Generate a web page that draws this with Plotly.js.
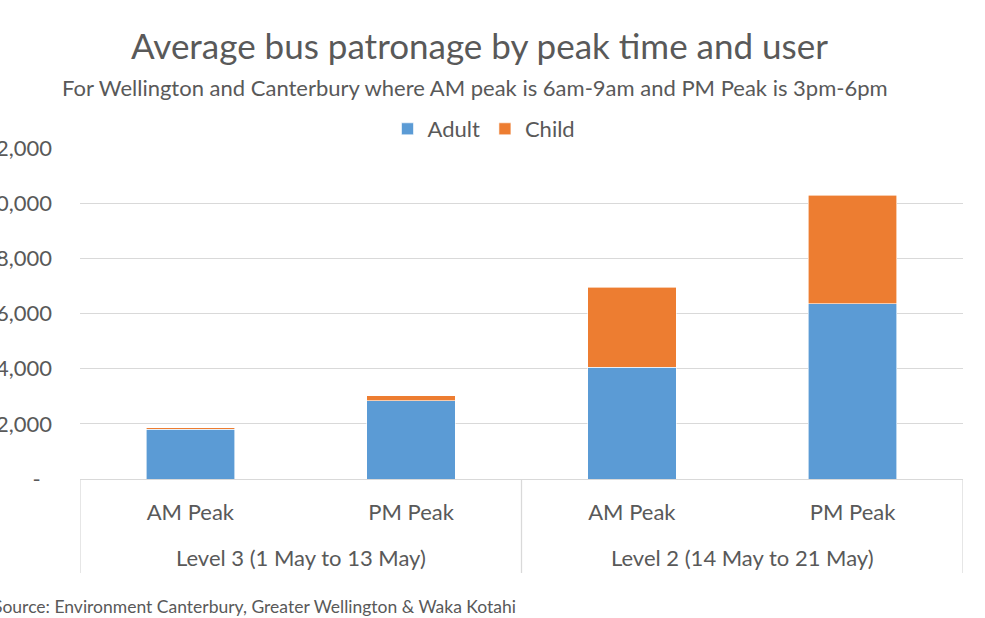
<!DOCTYPE html>
<html>
<head>
<meta charset="utf-8">
<script src="https://cdn.plot.ly/plotly-3.0.1.min.js"></script>
<style>html,body{margin:0;padding:0;background:#fff;}#chart{width:985px;height:618px;}</style>
</head>
<body>
<div id="chart"></div>
<script>
const categories = ["Level 3 AM Peak", "Level 3 PM Peak", "Level 2 AM Peak", "Level 2 PM Peak"];
const peaks = ["AM Peak", "PM Peak", "AM Peak", "PM Peak"];
const groupLabels = ["Level 3 (1 May to 13 May)", "Level 2 (14 May to 21 May)"];
const adult = [1800, 2830, 4060, 6350];
const child = [55, 190, 2900, 3935];
const yTickVals = [0, 2000, 4000, 6000, 8000, 10000, 12000];
const yTickText = ["-\u00a0\u00a0", "2,000", "4,000", "6,000", "8,000", "10,000", "12,000"];

const FONT = "Lato, 'Open Sans', sans-serif";
const TXT = "#595959";
const GRID = "#d9d9d9";

const traces = [
  {type: "bar", name: "Adult", x: categories, y: adult,
   marker: {color: "#5B9BD5", line: {color: "#ffffff", width: 0.6}}, width: 0.4},
  {type: "bar", name: "Child", x: categories, y: child,
   marker: {color: "#ED7D31", line: {color: "#ffffff", width: 0.6}}, width: 0.4}
];

// group labels centred on each pair of categories, dividers at group boundaries
const perGroup = categories.length / groupLabels.length;
const groupAnnots = groupLabels.map((g, i) => ({
  text: g, xref: "x", yref: "paper", x: i * perGroup + (perGroup - 1) / 2, y: (479 - 557) / 331,
  xanchor: "center", yanchor: "middle", showarrow: false, font: {family: FONT, size: 22, color: TXT}
}));
const dividers = [];
for (let i = 0; i <= groupLabels.length; i++) {
  dividers.push({type: "line", xref: "x", yref: "paper", x0: i * perGroup - 0.5, x1: i * perGroup - 0.5,
                 y0: 0, y1: (479 - 573) / 331, line: {color: GRID, width: 1.3}});
}

const layout = {
  width: 985, height: 618,
  margin: {l: 80, r: 22, t: 148, b: 139},
  paper_bgcolor: "#ffffff", plot_bgcolor: "#ffffff",
  barmode: "stack",
  font: {family: FONT, color: TXT, size: 22},
  title: {text: "Average bus patronage by peak time and user", font: {family: FONT, size: 35, color: TXT},
          xref: "container", x: 479.5/985, xanchor: "center", yref: "container", y: 1 - 47/618, yanchor: "middle"},
  showlegend: true,
  legend: {orientation: "h", xref: "paper", x: (484-80)/883, xanchor: "center", yref: "paper", y: (479-129)/331, yanchor: "middle",
           font: {family: FONT, size: 22, color: TXT}, traceorder: "normal", itemwidth: 30, bgcolor: "rgba(0,0,0,0)"},
  xaxis: {type: "category", range: [-0.5, 3.5], tickvals: categories, ticktext: peaks,
          showgrid: false, showline: true, linecolor: GRID, linewidth: 1.3,
          ticks: "", ticklabelstandoff: 13, tickfont: {family: FONT, size: 22, color: TXT},
          automargin: false, fixedrange: true},
  yaxis: {range: [0, 12000], tickvals: yTickVals, ticktext: yTickText, showgrid: true, gridcolor: GRID, gridwidth: 1.3,
          zeroline: false, showline: false, ticks: "", tickfont: {family: FONT, size: 22, color: TXT},
          ticklabelstandoff: 27, automargin: false, fixedrange: true},
  shapes: dividers,
  annotations: [
    {text: "For Wellington and Canterbury where AM peak is 6am-9am and PM Peak is 3pm-6pm", xref: "paper", yref: "paper",
     x: (475-80)/883, y: (479-87)/331, xanchor: "center", yanchor: "middle", showarrow: false,
     font: {family: FONT, size: 22, color: TXT}},
    {text: "Source: Environment Canterbury, Greater Wellington & Waka Kotahi", xref: "paper", yref: "paper",
     x: (-9.5-80)/883, y: (479-606)/331, xanchor: "left", yanchor: "middle", showarrow: false,
     font: {family: FONT, size: 17.5, color: TXT}}
  ].concat(groupAnnots)
};

Plotly.newPlot("chart", traces, layout, {displayModeBar: false, staticPlot: true});
</script>
</body>
</html>
